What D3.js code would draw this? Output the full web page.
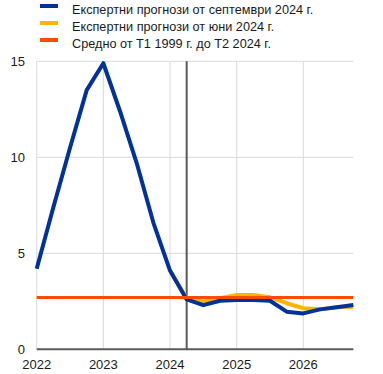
<!DOCTYPE html>
<html>
<head>
<meta charset="utf-8">
<script src="https://cdn.jsdelivr.net/npm/d3@7"></script>
<style>
  body { margin: 0; background: #fff; }
  svg { display: block; font-family: Arial, "Liberation Sans", sans-serif; }
</style>
</head>
<body>
<div id="chart"></div>
<script>
const width = 383;
const height = 374;

// quarterly periods (year fraction)
const quarters = [2022.0, 2022.25, 2022.5, 2022.75, 2023.0, 2023.25, 2023.5, 2023.75,
  2024.0, 2024.25, 2024.5, 2024.75, 2025.0, 2025.25, 2025.5, 2025.75,
  2026.0, 2026.25, 2026.5, 2026.75];
const septValues = [4.2, 7.4, 10.5, 13.5, 14.9, 12.4, 9.7, 6.6,
  4.1, 2.6, 2.3, 2.53, 2.57, 2.57, 2.53, 1.96,
  1.87, 2.08, 2.19, 2.31];
const juneQuarters = [2024.0, 2024.25, 2024.5, 2024.75, 2025.0, 2025.25, 2025.5, 2025.75,
  2026.0, 2026.25, 2026.5, 2026.75];
const juneValues = [4.1, 2.65, 2.48, 2.66, 2.83, 2.83, 2.71, 2.4, 2.14, 2.08, 2.19, 2.22];
const averageValue = 2.7;
const lastObs = 2024.25;

const yearTicks = [2022, 2023, 2024, 2025, 2026];
const yTicks = [0, 5, 10, 15];

const legendItems = [
  { label: "Експертни прогнози от септември 2024 г.", color: "#003299" },
  { label: "Експертни прогнози от юни 2024 г.", color: "#ffb400" },
  { label: "Средно от Т1 1999 г. до Т2 2024 г.", color: "#ff4b00" },
];

const plot = { left: 36.7, right: 353.3, top: 61.3, bottom: 349.3 };

const svg = d3.select("#chart").append("svg")
  .attr("width", width)
  .attr("height", height);

const x = d3.scaleLinear().domain([2022, 2026.75]).range([plot.left, plot.right]);
const y = d3.scaleLinear().domain([0, 15]).range([plot.bottom, plot.top]);

// gridlines
svg.append("g")
  .selectAll("line")
  .data(yTicks.filter(d => d > 0))
  .join("line")
  .attr("x1", plot.left).attr("x2", plot.right)
  .attr("y1", d => y(d)).attr("y2", d => y(d))
  .attr("stroke", "#d9d9d9").attr("stroke-width", 1);

svg.append("g")
  .selectAll("line")
  .data(yearTicks)
  .join("line")
  .attr("x1", d => x(d)).attr("x2", d => x(d))
  .attr("y1", plot.top).attr("y2", plot.bottom)
  .attr("stroke", "#d9d9d9").attr("stroke-width", 1);

// y labels
svg.append("g")
  .selectAll("text")
  .data(yTicks)
  .join("text")
  .attr("x", 25)
  .attr("y", d => y(d))
  .attr("dy", "0.35em")
  .attr("text-anchor", "end")
  .attr("font-size", 13)
  .attr("fill", "#1a1a1a")
  .text(d => d);

// x labels
svg.append("g")
  .selectAll("text")
  .data(yearTicks)
  .join("text")
  .attr("x", d => x(d))
  .attr("y", 369)
  .attr("text-anchor", "middle")
  .attr("font-size", 13)
  .attr("fill", "#1a1a1a")
  .text(d => d);

// bottom axis line
svg.append("line")
  .attr("x1", plot.left).attr("x2", plot.right)
  .attr("y1", y(0)).attr("y2", y(0))
  .attr("stroke", "#595959").attr("stroke-width", 2);

// last observation marker
svg.append("line")
  .attr("x1", x(lastObs)).attr("x2", x(lastObs))
  .attr("y1", plot.top).attr("y2", plot.bottom)
  .attr("stroke", "#595959").attr("stroke-width", 2);

const line = d3.line().x(d => x(d[0])).y(d => y(d[1]));

svg.append("path")
  .datum(d3.zip(juneQuarters, juneValues))
  .attr("d", line)
  .attr("fill", "none")
  .attr("stroke", "#ffb400")
  .attr("stroke-width", 4)
  .attr("stroke-linejoin", "round");

svg.append("path")
  .datum(d3.zip(quarters, septValues))
  .attr("d", line)
  .attr("fill", "none")
  .attr("stroke", "#003299")
  .attr("stroke-width", 4)
  .attr("stroke-linejoin", "round");

svg.append("line")
  .attr("x1", plot.left).attr("x2", plot.right)
  .attr("y1", y(averageValue)).attr("y2", y(averageValue))
  .attr("stroke", "#ff4b00").attr("stroke-width", 3);

// legend
const legend = svg.append("g").selectAll("g")
  .data(legendItems)
  .join("g")
  .attr("transform", (d, i) => `translate(40, ${4 + i * 17})`);

legend.append("rect")
  .attr("width", 18).attr("height", 4)
  .attr("fill", d => d.color);

legend.append("text")
  .attr("x", 32)
  .attr("y", 10)
  .attr("font-size", 12.7)
  .attr("fill", "#1a1a1a")
  .text(d => d.label);
</script>
</body>
</html>
